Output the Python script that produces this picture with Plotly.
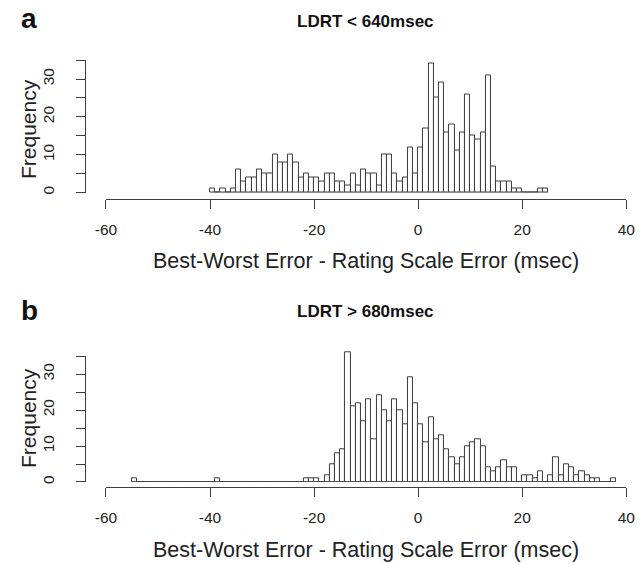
import plotly.graph_objects as go

# ---------------- data ----------------
top_bin_start = -40
top_counts = [1, 0, 1, 0, 1, 6, 3, 4, 4, 6,
              5, 5, 10, 8, 8, 10, 8, 4, 5, 4,
              4, 3, 5, 5, 3, 3, 2, 5, 2, 6,
              5, 5, 2, 10, 10, 5, 3, 4, 12, 5,
              12, 17, 34, 25, 29, 16, 18, 11, 16, 26,
              15, 14, 16, 31, 7, 3, 3, 3, 1, 1,
              0, 0, 0, 1, 1]

bot_bin_start = -55
bot_counts = [1, 0, 0, 0, 0, 0, 0, 0, 0, 0,
              0, 0, 0, 0, 0, 0, 1, 0, 0, 0,
              0, 0, 0, 0, 0, 0, 0, 0, 0, 0,
              0, 0, 0, 1, 1, 1, 0, 2, 5, 8,
              9, 36, 21, 22, 17, 23, 12, 24, 20, 17,
              23, 20, 16, 29, 22, 16, 11, 18, 12, 13,
              9, 7, 5, 7, 10, 11, 12, 10, 4, 3,
              4, 6, 4, 4, 0, 2, 2, 1, 3, 0,
              2, 7, 2, 5, 4, 2, 3, 2, 1, 1,
              0, 0, 1]

bin_width = 1
x_ticks = [-60, -40, -20, 0, 20, 40]
x_ticktext = ["-60", "-40", "-20", "0", "20", "40"]
y_ticks = [0, 5, 10, 15, 20, 25, 30, 35]
y_ticktext = ["0", "", "10", "", "20", "", "30", ""]

titles = ["LDRT < 640msec", "LDRT > 680msec"]
panel_letters = ["a", "b"]
x_title = "Best-Worst Error - Rating Scale Error (msec)"
y_title = "Frequency"

# ---------------- geometry (pixels) ----------------
W, H = 644, 564
FONT = "Liberation Sans, Arial, Helvetica, sans-serif"
LINE = "#3c3c3c"


def px_x(p):
    return p / W


def px_y(p):
    return 1 - p / H


x_dom = [px_x(98), px_x(635)]

panels = [
    dict(start=top_bin_start, counts=top_counts, y0=193.3, ppu=3.80, axis_y=200,
         bar_top=37, letter_y=19, title_y=22, xlab_y=262, ylab_y=129),
    dict(start=bot_bin_start, counts=bot_counts, y0=483.7, ppu=3.61, axis_y=489,
         bar_top=38, letter_y=312, title_y=313, xlab_y=552, ylab_y=419),
]

fig = go.Figure()
layout = dict(width=W, height=H, margin=dict(l=0, r=0, t=0, b=0), autosize=False,
              paper_bgcolor="white", plot_bgcolor="rgba(0,0,0,0)", showlegend=False,
              font=dict(family=FONT, color="#222"))
annotations = []

for i, p in enumerate(panels):
    xa = "x" if i == 0 else "x2"
    ya_bar = "y" if i == 0 else "y2"
    ya_ax = "y3" if i == 0 else "y4"
    xk = "xaxis" if i == 0 else "xaxis2"
    yk_bar = "yaxis" if i == 0 else "yaxis2"
    yk_ax = "yaxis3" if i == 0 else "yaxis4"

    lefts = [p["start"] + k * bin_width for k in range(len(p["counts"]))]
    # baseline (zero-height bins drawn as a line as in R hist)
    fig.add_trace(go.Scatter(x=[lefts[0], lefts[-1] + bin_width], y=[0, 0], mode="lines",
                             line=dict(color=LINE, width=1), xaxis=xa, yaxis=ya_bar,
                             hoverinfo="skip"))
    fig.add_trace(go.Bar(x=lefts, y=p["counts"], width=bin_width, offset=0,
                         marker=dict(color="white", line=dict(color=LINE, width=1)),
                         xaxis=xa, yaxis=ya_bar))
    # invisible trace for the axis-line y axis
    fig.add_trace(go.Scatter(x=[x_ticks[0]], y=[y_ticks[0]], mode="markers",
                             marker=dict(opacity=0), xaxis=xa, yaxis=ya_ax,
                             hoverinfo="skip"))

    y0 = p["y0"]
    ppu = p["ppu"]
    layout[xk] = dict(domain=x_dom, range=[x_ticks[0], x_ticks[-1]], anchor="free",
                      position=px_y(p["axis_y"]), showgrid=False, zeroline=False,
                      showline=True, linecolor=LINE, linewidth=1,
                      tickmode="array", tickvals=x_ticks, ticktext=x_ticktext,
                      ticks="outside", ticklen=9, ticklabelstandoff=7,
                      tickcolor=LINE, tickwidth=1,
                      tickfont=dict(size=15.5, family=FONT, color="#222"))
    layout[yk_bar] = dict(domain=[px_y(y0), px_y(y0 - p["bar_top"] * ppu)],
                          range=[0, p["bar_top"]], anchor=xa, showgrid=False,
                          zeroline=False, showline=False, showticklabels=False, ticks="")
    layout[yk_ax] = dict(domain=[px_y(y0), px_y(y0 - 35 * ppu)], range=[0, 35],
                         anchor="free", position=px_x(76), showgrid=False, zeroline=False,
                         showline=True, linecolor=LINE, linewidth=1,
                         tickmode="array", tickvals=y_ticks, ticktext=y_ticktext,
                         ticks="outside", ticklen=9, tickcolor=LINE, tickwidth=1,
                         tickangle=-90, ticklabelstandoff=15,
                         tickfont=dict(size=15.5, family=FONT, color="#222"))

    annotations += [
        dict(text="<b>%s</b>" % panel_letters[i], x=px_x(19), y=px_y(p["letter_y"]),
             xref="paper", yref="paper", showarrow=False, xanchor="center", yanchor="middle",
             font=dict(size=28, family=FONT, color="#111")),
        dict(text="<b>%s</b>" % titles[i], x=px_x(366), y=px_y(p["title_y"]),
             xref="paper", yref="paper", showarrow=False, xanchor="center", yanchor="middle",
             font=dict(size=17, family=FONT, color="#111")),
        dict(text=x_title, x=px_x(366), y=px_y(p["xlab_y"]),
             xref="paper", yref="paper", showarrow=False, xanchor="center", yanchor="middle",
             font=dict(size=21.5, family=FONT, color="#222")),
        dict(text=y_title, x=px_x(18), y=px_y(p["ylab_y"]), textangle=-90,
             xref="paper", yref="paper", showarrow=False, xanchor="center", yanchor="middle",
             font=dict(size=21, family=FONT, color="#222")),
    ]

layout["annotations"] = annotations
layout["bargap"] = 0
fig.update_layout(**layout)
fig.write_html("out.html")
